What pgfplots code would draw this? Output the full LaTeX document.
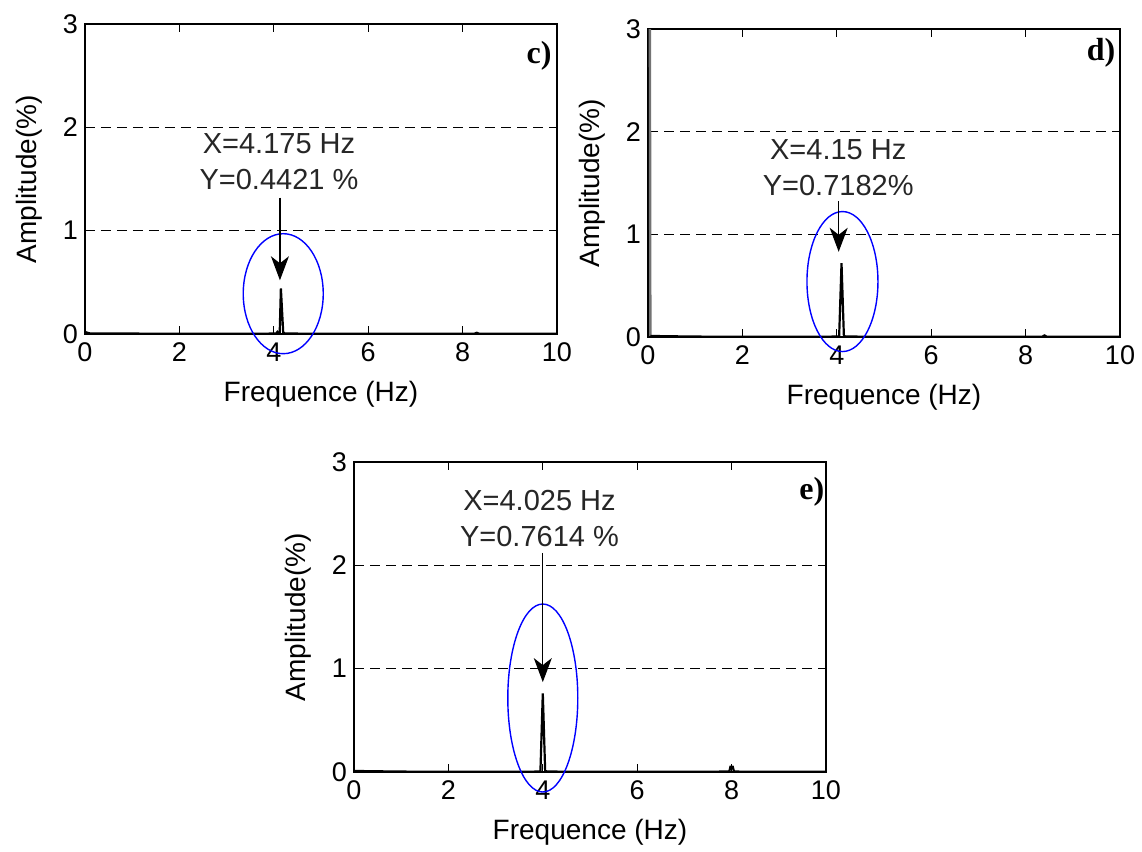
\documentclass[border=0pt]{standalone}
\usepackage{fontspec}
\setmainfont{Liberation Sans}
\newfontfamily\serifb{Liberation Serif}
\usepackage{pgfplots}
\pgfplotsset{compat=1.18}
\usetikzlibrary{arrows.meta}

\pgfplotsset{
  spec/.style={
    scale only axis, width=236pt, height=155pt,
    xmin=0, xmax=10, ymin=0, ymax=3,
    xtick={0,2,4,6,8,10}, ytick={0,1,2,3},
    tick align=inside, major tick length=4pt,
    axis line style={line width=1pt},
    every tick/.style={black, line width=0.6pt},
    ymajorgrids,
    grid style={black, line width=0.8pt, dash pattern=on 5pt off 3pt},
    xlabel={Frequence (Hz)}, ylabel={Amplitude(\%)},
    tick label style={font=\fontsize{13.5}{15}\selectfont},
    label style={font=\fontsize{14}{16}\selectfont},
    /pgf/number format/assume math mode=true,
    xlabel style={at={(axis description cs:0.5,0)}, anchor=center, yshift=-30pt},
    ylabel style={at={([xshift=-28pt]axis description cs:0,0.5)}, anchor=center},
    xticklabel style={yshift=-1pt},
    clip=false,
  },
}
\tikzset{
  spline/.style={black, line width=1.1pt, no marks},
  ell/.style={blue, line width=0.7pt},
  arr/.style={black, line width=0.6pt, -{Stealth[length=12pt, width=9pt, inset=3.5pt]}},
  ann/.style={font=\fontsize{14.5}{17}\selectfont, align=center, text=black!85},
  tag/.style={font=\serifb\bfseries\fontsize{16}{18}\selectfont},
}

\begin{document}
\begin{tikzpicture}
\path (0,0) rectangle (571pt,425pt);

% ---- c) ----
\begin{axis}[spec, at={(42.5pt,258pt)}, anchor=south west]
\addplot[spline] coordinates {
(0,0.02) (0.05,0.012) (0.1,0.006) (1,0.004) (2,0.003) (3,0.003) (4.05,0.004) (4.075,0.02) (4.1,0.006)
(4.125,0.01) (4.15,0.4421) (4.2,0.01) (4.25,0.004) (6,0.003) (8.25,0.003) (8.3,0.012) (8.35,0.003) (10,0.002)};
\draw[ell] (axis cs:4.2,0.39) ellipse [x radius=20pt, y radius=30pt];
\draw[arr] (axis cs:4.13,1.32) -- (axis cs:4.13,0.52);
\node[ann] at (axis cs:4.11,1.67) {X=4.175 Hz\\[1pt]Y=0.4421 \%};
\node[tag] at (axis cs:9.62,2.69) {c)};
\end{axis}

% ---- d) ----
\begin{axis}[spec, height=154pt, at={(324pt,256.5pt)}, anchor=south west]
\addplot[spline, black!55, line width=1.2pt] coordinates {(0.04,3.0) (0.05,0.01)};
\addplot[spline] coordinates {
(0.05,0.01) (1,0.004) (2,0.003) (3,0.003) (4.025,0.004) (4.05,0.01) (4.1,0.7182) (4.15,0.01)
(4.2,0.004) (6,0.003) (8.35,0.003) (8.4,0.015) (8.45,0.003) (10,0.002)};
\draw[ell] (axis cs:4.12,0.54) ellipse [x radius=17.75pt, y radius=35pt];
\draw[arr] (axis cs:4.04,1.32) -- (axis cs:4.04,0.83);
\node[ann] at (axis cs:4.03,1.65) {X=4.15 Hz\\[1pt]Y=0.7182\%};
\node[tag] at (axis cs:9.6,2.77) {d)};
\end{axis}

% ---- e) ----
\begin{axis}[spec, at={(177pt,39pt)}, anchor=south west]
\addplot[spline] coordinates {
(0,0.01) (1,0.004) (2,0.003) (3,0.003) (3.925,0.004) (3.95,0.01) (4.0,0.7614) (4.05,0.01)
(4.1,0.004) (6,0.003) (7.95,0.004) (7.975,0.05) (8.025,0.05) (8.05,0.004) (10,0.002)};
\draw[ell] (axis cs:4.0,0.716) ellipse [x radius=17.5pt, y radius=47pt];
\draw[arr] (axis cs:4.0,2.12) -- (axis cs:4.0,0.87);
\node[ann] at (axis cs:3.93,2.45) {X=4.025 Hz\\[1pt]Y=0.7614 \%};
\node[tag] at (axis cs:9.7,2.71) {e)};
\end{axis}
\end{tikzpicture}
\end{document}
